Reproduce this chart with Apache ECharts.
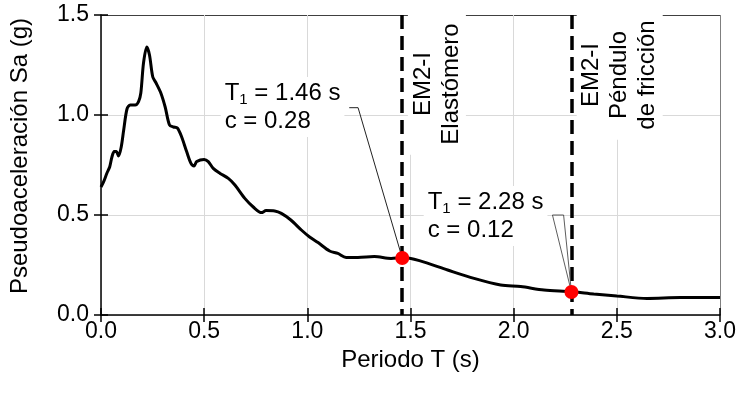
<!DOCTYPE html>
<html>
<head>
<meta charset="utf-8">
<script src="https://cdn.jsdelivr.net/npm/echarts@6/dist/echarts.min.js"></script>
<style>html,body{margin:0;padding:0;background:#fff;}#c{width:739px;height:394px;}</style>
</head>
<body>
<div id="c"></div>
<script>
// Spectrum: period T (s) and pseudo-acceleration Sa (g)
const periodT = [0, 0.013, 0.029, 0.042, 0.053, 0.064, 0.074, 0.085, 0.098, 0.11, 0.126, 0.142, 0.166, 0.182, 0.193, 0.206, 0.222, 0.235, 0.251, 0.267, 0.29, 0.311, 0.332, 0.351, 0.37, 0.391, 0.415, 0.436, 0.451, 0.464, 0.50, 0.52, 0.544, 0.577, 0.617, 0.649, 0.697, 0.738, 0.778, 0.80, 0.842, 0.874, 0.92, 0.971, 1.011, 1.052, 1.108, 1.148, 1.188, 1.245, 1.325, 1.406, 1.46, 1.543, 1.68, 1.808, 1.937, 2.034, 2.147, 2.28, 2.388, 2.5, 2.646, 2.807, 3.0];
const saValues = [0.64, 0.667, 0.71, 0.74, 0.79, 0.817, 0.817, 0.795, 0.84, 0.925, 1.03, 1.05, 1.05, 1.067, 1.11, 1.26, 1.34, 1.30, 1.19, 1.16, 1.11, 1.04, 0.95, 0.94, 0.935, 0.89, 0.817, 0.758, 0.745, 0.767, 0.778, 0.767, 0.733, 0.708, 0.683, 0.65, 0.583, 0.54, 0.512, 0.522, 0.52, 0.508, 0.475, 0.425, 0.39, 0.362, 0.32, 0.308, 0.288, 0.288, 0.292, 0.283, 0.287, 0.272, 0.225, 0.183, 0.15, 0.142, 0.125, 0.117, 0.105, 0.095, 0.083, 0.087, 0.087];

// Design periods and their Sa values
const designT = [1.46, 2.28];
const designSa = [0.285, 0.115];
const designC = ['0.28', '0.12'];
const systemNames = ['EM2-I\nElastómero', 'EM2-I\nPéndulo\nde fricción'];

// Annotation anchors (data coordinates)
const noteAnchors = [[0.58, 1.04], [1.564, 0.495]];
const systemAnchors = [[1.628, 1.155], [2.514, 1.2]];
const leader1 = [[1.203, 1.0365], [1.246, 1.0365], [1.46, 0.285]];
const leader2 = [[2.188, 0.5], [2.242, 0.5], [2.28, 0.115], [2.188, 0.5]];

const xTicks = {min: 0, max: 3, interval: 0.5};
const yTicks = {min: 0, max: 1.5, interval: 0.5};

const FONT = 'Liberation Sans';
const chart = echarts.init(document.getElementById('c'), null, {renderer: 'canvas'});

const gridColX = ['#d9d9d9','#d9d9d9','#d9d9d9','#d9d9d9','#d9d9d9','#d9d9d9','#7f7f7f'];
const gridColY = ['#d9d9d9','#d9d9d9','#d9d9d9','#404040'];

const richNote = {
  t: {fontFamily: FONT, fontSize: 24, lineHeight: 28, color: '#000'},
  s: {fontFamily: FONT, fontSize: 15, lineHeight: 15, color: '#000', verticalAlign: 'bottom'}
};

const option = {
  animation: false,
  backgroundColor: '#fff',
  grid: {left: 99, right: 19, top: 15, bottom: 79, containLabel: false},
  xAxis: [{
    type: 'value', min: xTicks.min, max: xTicks.max, interval: xTicks.interval,
    name: 'Periodo T (s)', nameLocation: 'middle', nameGap: 29,
    nameTextStyle: {fontFamily: FONT, fontSize: 24, color: '#000'},
    axisLine: {show: true, onZero: false, lineStyle: {color: '#000', width: 1.5}},
    axisTick: {show: true, length: 7, lineStyle: {color: '#000', width: 1.5}},
    axisLabel: {fontFamily: FONT, fontSize: 23, color: '#000', margin: 5, formatter: v => v.toFixed(1)},
    splitLine: {show: true, lineStyle: {color: gridColX, width: 1}}
  }, {
    type: 'value', min: xTicks.min, max: xTicks.max, interval: xTicks.interval, position: 'bottom',
    axisLine: {show: false}, axisLabel: {show: false}, splitLine: {show: false},
    axisTick: {show: true, inside: true, length: 7, lineStyle: {color: '#000', width: 1.5}}
  }],
  yAxis: [{
    type: 'value', min: yTicks.min, max: yTicks.max, interval: yTicks.interval,
    name: 'Pseudoaceleración Sa (g)', nameLocation: 'middle', nameGap: 69,
    nameTextStyle: {fontFamily: FONT, fontSize: 24, color: '#000', padding: [0, 0, 0, 18]},
    axisLine: {show: true, onZero: false, lineStyle: {color: '#000', width: 1.5}},
    axisTick: {show: true, length: 7, lineStyle: {color: '#000', width: 1.5}},
    axisLabel: {fontFamily: FONT, fontSize: 23, color: '#000', margin: 12, formatter: v => v.toFixed(1)},
    splitLine: {show: true, lineStyle: {color: gridColY, width: 1}}
  }, {
    type: 'value', min: yTicks.min, max: yTicks.max, interval: yTicks.interval, position: 'left',
    axisLine: {show: false}, axisLabel: {show: false}, splitLine: {show: false},
    axisTick: {show: true, inside: true, length: 7, lineStyle: {color: '#000', width: 1.5}}
  }],
  series: [
    {
      type: 'line', name: 'Sa', data: periodT.map((t, i) => [t, saValues[i]]),
      showSymbol: false, smooth: 0.3, z: 5,
      lineStyle: {color: '#000', width: 3},
      markLine: {
        silent: true, symbol: ['none', 'none'], label: {show: false},
        lineStyle: {color: '#000', width: 3.5, type: 'dashed'},
        data: designT.map(t => [{coord: [t, yTicks.max]}, {coord: [t, yTicks.min]}])
      }
    },
    {
      type: 'line', data: leader1, showSymbol: false, silent: true, z: 6,
      lineStyle: {color: '#222', width: 1}
    },
    {
      type: 'line', data: leader2, showSymbol: false, silent: true, z: 6,
      lineStyle: {color: '#333', width: 0.8}
    },
    {
      type: 'scatter', data: designT.map((t, i) => [t, designSa[i]]), symbolSize: 14, z: 7,
      itemStyle: {color: '#ff0000', opacity: 1}
    },
    {
      type: 'scatter', symbolSize: 0, silent: true, z: 8,
      itemStyle: {opacity: 1},
      data: noteAnchors,
      label: {
        show: true, position: 'right', distance: 0, align: 'left', verticalAlign: 'middle',
        backgroundColor: '#fff', padding: [2, 4, 2, 4], opacity: 1,
        formatter: p => '{t|T}{s|1}{t| = ' + designT[p.dataIndex].toFixed(2) + ' s}\n{t|c = ' + designC[p.dataIndex] + '}',
        rich: richNote
      }
    },
    {
      type: 'scatter', symbolSize: 0, silent: true, z: 8,
      itemStyle: {opacity: 1},
      data: systemAnchors,
      label: {
        show: true, position: 'inside', rotate: 90, align: 'center', verticalAlign: 'middle',
        fontFamily: FONT, fontSize: 24, lineHeight: 28, color: '#000', opacity: 1,
        backgroundColor: '#fff', padding: [1, 10, 1, 10],
        formatter: p => systemNames[p.dataIndex]
      }
    }
  ]
};
chart.setOption(option);
</script>
</body>
</html>
